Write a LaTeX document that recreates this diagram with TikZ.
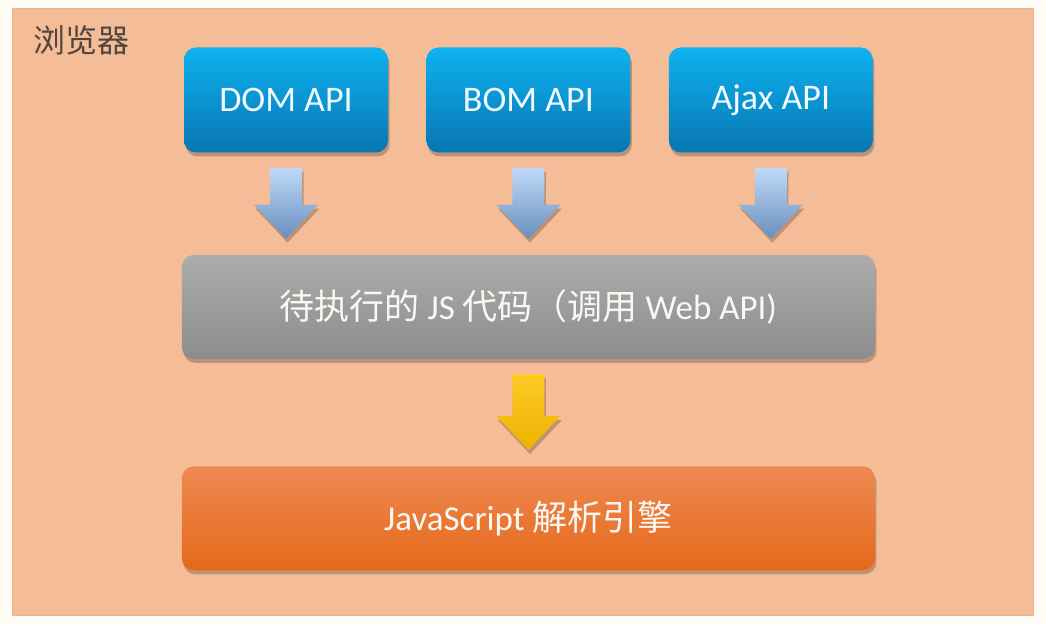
\documentclass[tikz,border=0pt]{standalone}
\usepackage{fontspec}
\setmainfont{Carlito}
\newfontfamily\cjk{Noto Sans CJK SC}
\usetikzlibrary{positioning,calc,shadows}

\definecolor{cream}{RGB}{255,252,246}
\definecolor{peach}{RGB}{244,189,151}
\definecolor{peachedge}{RGB}{236,178,138}

\newcommand{\blockarrow}[3]{%
  \path[#1] let \p1=(#2.south), \p2=(#3.north) in
    (\x1-16pt,\y1-15pt) -- (\x1+16pt,\y1-15pt) -- (\x1+16pt,\y2+50pt)
    -- (\x1+32pt,\y2+50pt) -- (\x1,\y2+16pt) -- (\x1-32pt,\y2+50pt)
    -- (\x1-16pt,\y2+50pt) -- cycle;}

\begin{document}
\begin{tikzpicture}[x=1pt, y=1pt,
  shd/.style={drop shadow={shadow xshift=1.5pt, shadow yshift=-4pt,
              opacity=0.22, fill=black}},
  apibox/.style={shd, rounded corners=12pt, minimum width=204pt, minimum height=105pt,
                 top color={rgb,255:red,14;green,178;blue,240},
                 bottom color={rgb,255:red,8;green,118;blue,178},
                 text={rgb,255:red,240;green,250;blue,255},
                 font=\fontsize{36}{42}\selectfont, inner sep=0pt},
  wide/.style={shd, rounded corners=12pt, minimum width=693pt, minimum height=104pt,
               text={rgb,255:red,250;green,248;blue,245},
               font=\fontsize{35}{40}\selectfont, inner sep=0pt},
  codebox/.style={wide, top color={rgb,255:red,172;green,172;blue,170},
                  bottom color={rgb,255:red,140;green,140;blue,140}},
  enginebox/.style={wide, top color={rgb,255:red,238;green,138;blue,82},
                    bottom color={rgb,255:red,229;green,104;blue,26}},
  bluearrow/.style={shd, top color={rgb,255:red,192;green,218;blue,246},
                    bottom color={rgb,255:red,104;green,142;blue,192}},
  yellowarrow/.style={shd, top color={rgb,255:red,255;green,202;blue,40},
                      bottom color={rgb,255:red,236;green,178;blue,0}}]
\useasboundingbox (0,0) rectangle (1046,624);
\fill[cream] (0,0) rectangle (1046,624);
\filldraw[fill=peach, draw=peachedge, line width=1pt] (12,9) rectangle (1033,615);
\node[anchor=west, text={rgb,255:red,80;green,70;blue,64},
      font=\cjk\fontsize{32}{38}\selectfont, inner sep=0pt] (title) at (33,584) {浏览器};
\node[apibox] (dom) at (286,524) {DOM API};
\node[apibox, right=38pt of dom] (bom) {BOM API};
\node[apibox, right=38pt of bom] (ajax) {Ajax API};
\node[codebox, below=102pt of bom] (code) {{\cjk 待执行的} JS {\cjk 代码（调用} Web API)\hspace{18pt}};
\node[enginebox, below=107pt of code] (engine) {JavaScript {\cjk 解析引擎}\hspace{10pt}};
\blockarrow{bluearrow, xshift=2pt}{dom}{code}
\blockarrow{bluearrow, xshift=5pt}{bom}{code}
\blockarrow{bluearrow, xshift=9pt}{ajax}{code}
\blockarrow{yellowarrow}{code}{engine}
\end{tikzpicture}
\end{document}
